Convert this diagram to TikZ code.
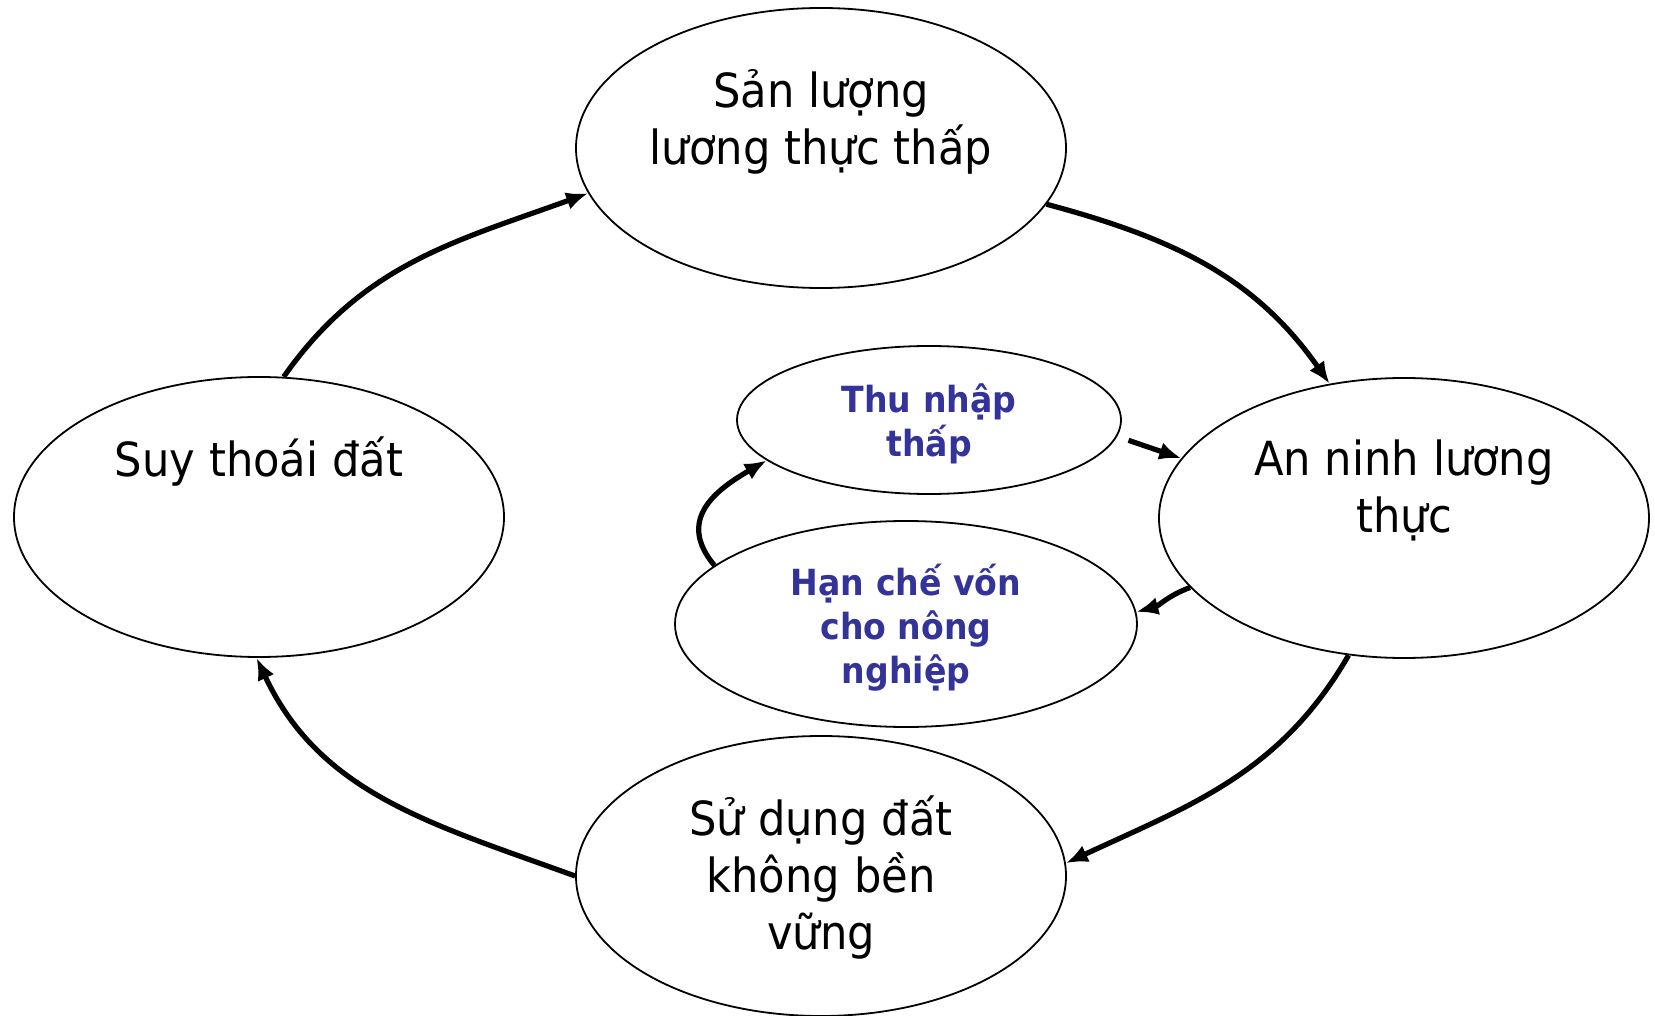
\documentclass[tikz,border=0pt]{standalone}
\usepackage{fontspec}
\setmainfont{DejaVu Sans}[FakeStretch=0.92]
\usetikzlibrary{shapes.geometric,arrows.meta}
\definecolor{darkblue}{RGB}{51,51,153}
\tikzset{%
  mainnode/.style={draw, ellipse, line width=0.9pt, inner sep=0pt, align=center,
    minimum width=245pt, minimum height=140pt, text depth=3pt,
    font=\fontsize{23.5}{28.5}\selectfont},% outer cycle
  subnode/.style={mainnode, text=darkblue, text depth=-2pt,
    font=\fontsize{18}{22}\selectfont\bfseries},% inner cycle
  flow/.style={line width=2.6pt, -{Latex[length=11pt,width=9pt]}}% cause -> effect
}

\begin{document}
\begin{tikzpicture}[x=0.5pt, y=-0.5pt]
\useasboundingbox (0,0) rectangle (1655,1016);
\node[mainnode] (san) at (821,148) {Sản lượng\\ lương thực thấp\\ \strut};
\node[mainnode] (suy) at (259,517) {Suy thoái đất\\ \strut\\ \strut};
\node[mainnode] (anninh) at (1404,518) {An ninh lương\\ thực\\ \strut};
\node[mainnode] (sudung) at (821,876) {Sử dụng đất\\ không bền\\ vững};
\node[subnode, minimum width=192pt, minimum height=74pt] (thunhap) at (929,420) {Thu nhập\\ thấp};
\node[subnode, minimum width=231pt, minimum height=103pt] (hanche) at (906,624) {Hạn chế vốn\\ cho nông\\ nghiệp};

\draw[flow] (suy.80) to[out=55, in=200] (san.191);
\draw[flow] (san.-14) to[out=-15, in=125] (anninh.119);
\draw[flow] (anninh.248) to[out=240, in=25] (sudung.3);
\draw[flow] (sudung.west) to[out=160, in=295] (suy.269);
\draw[flow, shorten <=6pt] (thunhap.-5.5) -- (anninh.165);
\draw[flow] (anninh.198) to[out=200, in=15] (hanche.3);
\draw[flow] (hanche.163) to[out=130, in=210, looseness=1.3] (thunhap.194);
\end{tikzpicture}
\end{document}
